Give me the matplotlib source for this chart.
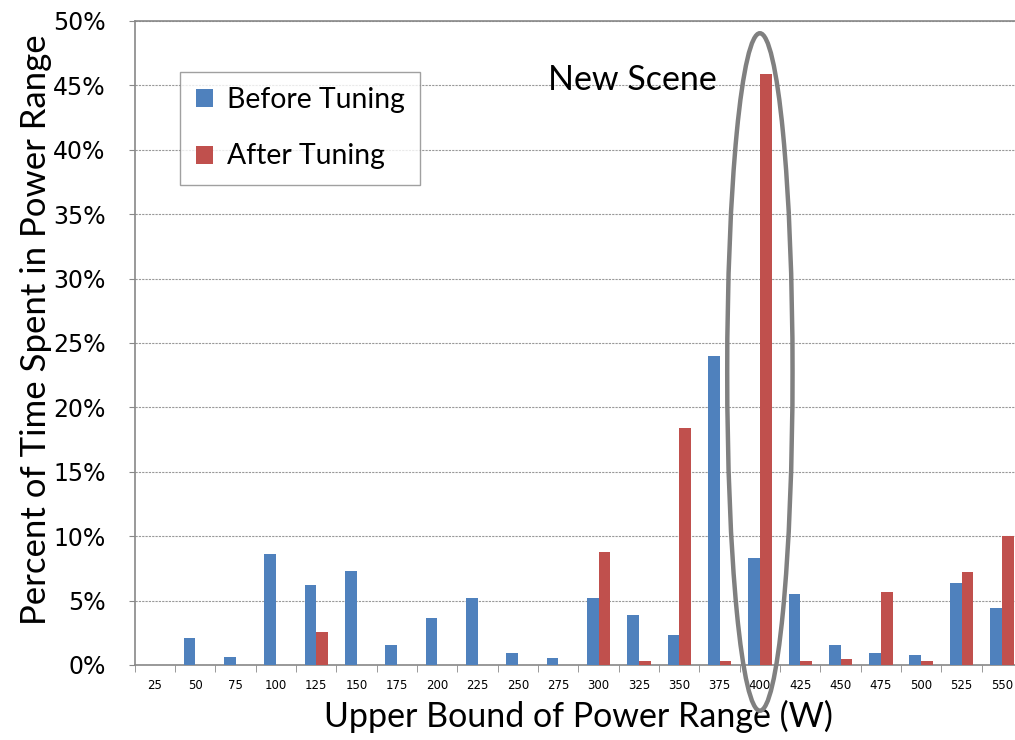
import matplotlib
matplotlib.use("Agg")
import matplotlib.pyplot as plt
import numpy as np
from matplotlib.patches import Ellipse

# upper bound of each power range (W)
bounds = ['25', '50', '75', '100', '125', '150', '175', '200', '225', '250', '275',
          '300', '325', '350', '375', '400', '425', '450', '475', '500', '525', '550']
# percent of time spent in each range
before = [0.0, 2.1, 0.6, 8.6, 6.2, 7.3, 1.55, 3.65, 5.2, 0.93, 0.57,
          5.2, 3.85, 2.3, 24.0, 8.3, 5.55, 1.55, 0.93, 0.75, 6.4, 4.4]
after = [0.0, 0.0, 0.0, 0.0, 2.55, 0.0, 0.0, 0.0, 0.0, 0.0, 0.0,
         8.75, 0.28, 18.4, 0.28, 45.9, 0.28, 0.47, 5.65, 0.28, 7.2, 10.0]

blue = '#4F81BD'
red = '#C0504D'
label_font = ['Lato', 'DejaVu Sans']

fig = plt.figure(figsize=(10.15, 7.4), dpi=100)
ax = fig.add_axes([134.8/1015, 75/740, (1022-134.8)/1015, 644/740])

x = np.arange(len(bounds))
w = 0.29
ax.bar(x - w/2, before, w, color=blue, label='Before Tuning', zorder=3)
ax.bar(x + w/2, after, w, color=red, label='After Tuning', zorder=3)

ax.set_xlim(-0.5, len(bounds) - 0.5)
ax.set_ylim(0, 50)
ax.set_yticks(np.arange(0, 51, 5))
ax.set_yticklabels([f'{v}%' for v in range(0, 51, 5)], fontsize=17, family='DejaVu Sans')
ax.set_xticks(x)
ax.set_xticklabels(bounds, fontsize=8.5, family='DejaVu Sans')
ax.set_xticks(np.arange(-0.5, len(bounds)), minor=True)
ax.tick_params(axis='x', which='major', length=0, pad=10)
ax.tick_params(axis='x', which='minor', length=5, color='#888888', direction='out')
ax.tick_params(axis='y', length=4, color='#888888', pad=17)

ax.yaxis.grid(True, linestyle=(0, (2, 1)), color='#999999', linewidth=0.8, zorder=0)
for s in ax.spines.values():
    s.set_color('#888888')
    s.set_linewidth(1.2)
ax.spines['right'].set_visible(False)

ax.set_xlabel('Upper Bound of Power Range (W)', fontsize=24.5, family=label_font, labelpad=5.5)
ax.set_ylabel('Percent of Time Spent in Power Range', fontsize=25, family=label_font,
              labelpad=0.5, y=0.52)

leg = ax.legend(loc='upper left', bbox_to_anchor=(0.051, 0.921), borderaxespad=0,
                prop={'family': label_font, 'size': 20.4}, frameon=True, fancybox=False,
                handlelength=0.6, handleheight=0.6, handletextpad=0.5,
                labelspacing=1.06, borderpad=0.55)
leg.get_frame().set_edgecolor('#888888')
leg.get_frame().set_linewidth(1.0)

ax.text(11.83, 45.4, 'New Scene', fontsize=24.5, family=label_font, ha='center', va='center')
ax.add_patch(Ellipse((15.0, 22.75), 1.62, 52.6, fill=False, edgecolor='#808080',
                     linewidth=3.2, clip_on=False, zorder=5))

fig.savefig('out.png', dpi=100)
